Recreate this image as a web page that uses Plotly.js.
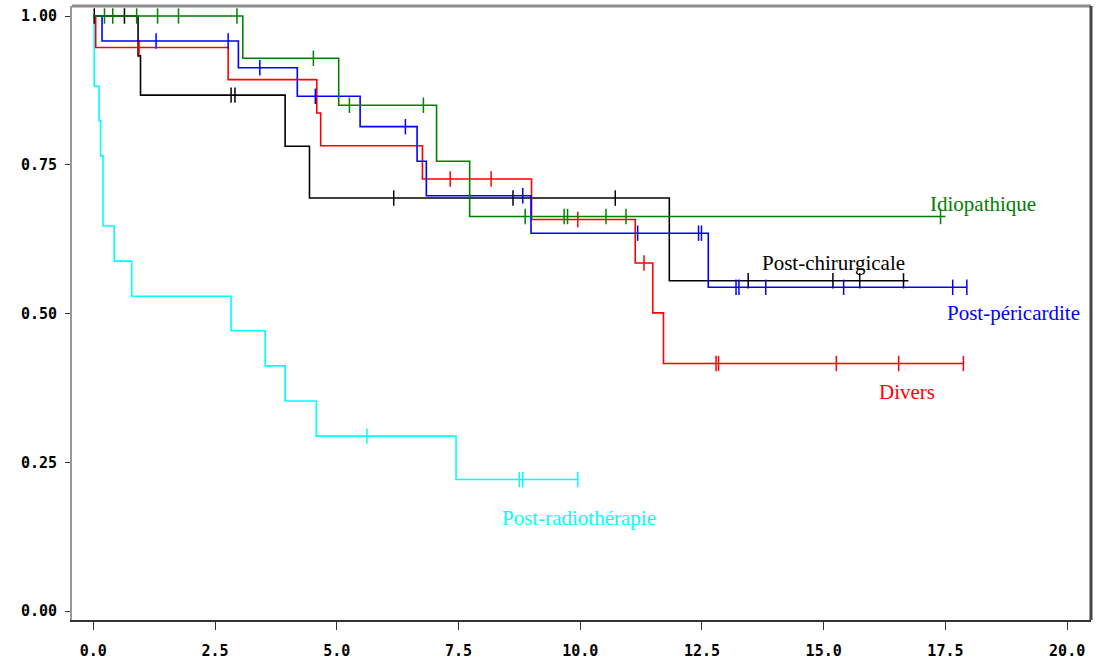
<!DOCTYPE html>
<html>
<head>
<meta charset="utf-8">
<script src="https://cdn.plot.ly/plotly-3.0.1.min.js"></script>
<style>
  html, body { margin: 0; padding: 0; background: #fff; }
  #chart { width: 1100px; height: 666px; }
</style>
</head>
<body>
<div id="chart"></div>
<script>
// Kaplan-Meier survival estimates by aetiology (time in years)

// Post-radiothérapie
const radioEventTimes = [0.02, 0.12, 0.15, 0.20, 0.43, 0.79, 2.83, 3.53, 3.94, 4.58, 7.45];
const radioSurvival   = [0.882, 0.824, 0.765, 0.647, 0.588, 0.529, 0.471, 0.412, 0.353, 0.294, 0.221];
const radioCensored   = [5.62, 8.75, 8.82, 9.95];
const radioEnd = 9.95;

// Post-chirurgicale
const chirEventTimes = [0.92, 0.97, 3.94, 4.44, 11.83];
const chirSurvival   = [0.933, 0.867, 0.781, 0.694, 0.555];
const chirCensored   = [0.02, 0.64, 2.83, 2.91, 6.17, 8.62, 10.72, 13.45, 15.19, 15.74, 16.64];
const chirEnd = 16.74;

// Divers
const diversEventTimes = [0.05, 2.77, 4.59, 4.67, 6.76, 9.00, 11.13, 11.49, 11.71];
const diversSurvival   = [0.947, 0.893, 0.837, 0.782, 0.726, 0.658, 0.585, 0.501, 0.416];
const diversCensored   = [0.94, 7.33, 8.17, 9.95, 11.31, 12.79, 12.84, 15.26, 16.54, 17.87];
const diversEnd = 17.87;

// Post-péricardite
const periEventTimes = [0.18, 2.98, 4.19, 5.48, 6.65, 6.84, 8.99, 12.63];
const periSurvival   = [0.958, 0.913, 0.865, 0.814, 0.756, 0.698, 0.635, 0.544];
const periCensored   = [1.29, 2.77, 3.42, 4.56, 6.41, 8.82, 11.18, 12.43, 12.49, 13.20, 13.26, 13.81, 15.41, 17.65, 17.94];
const periEnd = 17.94;

// Idiopathique
const idioEventTimes = [3.07, 5.04, 7.05, 7.73];
const idioSurvival   = [0.929, 0.850, 0.756, 0.663];
const idioCensored   = [0.23, 0.40, 0.89, 1.32, 1.75, 2.95, 4.52, 5.26, 6.78, 8.87, 9.67, 9.74, 10.53, 10.94, 17.40];
const idioEnd = 17.50;

// Curve labels
const groupNames = ["Post-radiothérapie", "Post-chirurgicale", "Divers", "Post-péricardite", "Idiopathique"];
const labelX = [9.97, 15.21, 16.71, 18.90, 18.27];
const labelY = [0.156, 0.585, 0.368, 0.501, 0.684];

// Axis ticks
const xTicks = [0, 2.5, 5, 7.5, 10, 12.5, 15, 17.5, 20];
const xTickText = ["0.0", "2.5", "5.0", "7.5", "10.0", "12.5", "15.0", "17.5", "20.0"];
const yTicks = [0, 0.25, 0.5, 0.75, 1];
const yTickText = ["0.00", "0.25", "0.50", "0.75", "1.00"];

const groups = [
  { name: groupNames[0], t: radioEventTimes, s: radioSurvival, c: radioCensored, end: radioEnd, color: "#00ffff" },
  { name: groupNames[1], t: chirEventTimes, s: chirSurvival, c: chirCensored, end: chirEnd, color: "#000000" },
  { name: groupNames[2], t: diversEventTimes, s: diversSurvival, c: diversCensored, end: diversEnd, color: "#ff0000" },
  { name: groupNames[3], t: periEventTimes, s: periSurvival, c: periCensored, end: periEnd, color: "#0000ff" },
  { name: groupNames[4], t: idioEventTimes, s: idioSurvival, c: idioCensored, end: idioEnd, color: "#008000" }
];

// survival value of the step function at time x
function survivalAt(g, x) {
  let v = 1;
  for (let i = 0; i < g.t.length; i++) {
    if (g.t[i] <= x) v = g.s[i];
  }
  return v;
}

const traces = [];
groups.forEach(g => {
  const xs = [0].concat(g.t, [g.end]);
  const ys = [1].concat(g.s, [g.s[g.s.length - 1]]);
  traces.push({
    type: "scatter", mode: "lines", x: xs, y: ys,
    line: { shape: "hv", color: g.color, width: 1.6 },
    hoverinfo: "skip", showlegend: false
  });
  traces.push({
    type: "scatter", mode: "markers", x: g.c, y: g.c.map(v => survivalAt(g, v)),
    marker: { symbol: "line-ns-open", size: 11, color: g.color, line: { color: g.color, width: 1.5 } },
    hoverinfo: "skip", showlegend: false
  });
});

const annotations = groups.map((g, i) => ({
  x: labelX[i], y: labelY[i], xref: "x", yref: "y",
  text: g.name, showarrow: false,
  font: { family: "Liberation Serif, Times New Roman, serif", size: 21, color: g.color }
}));

const tickFont = { family: "DejaVu Sans Mono, monospace", size: 15, color: "#000", weight: "bold" };

const layout = {
  width: 1100, height: 666,
  margin: { l: 72, r: 9, t: 6, b: 46 },
  paper_bgcolor: "#ffffff", plot_bgcolor: "#ffffff",
  showlegend: false,
  xaxis: {
    range: [-0.437, 20.49], tickvals: xTicks, ticktext: xTickText,
    showgrid: false, zeroline: false,
    showline: true, linecolor: "#333333", linewidth: 2,
    ticks: "outside", ticklen: 8, tickwidth: 1, tickcolor: "#333333",
    tickfont: tickFont, ticklabelstandoff: 8
  },
  yaxis: {
    range: [-0.0151, 1.0168], tickvals: yTicks, ticktext: yTickText,
    showgrid: false, zeroline: false,
    showline: true, linecolor: "#999999", linewidth: 2,
    ticks: "outside", ticklen: 5, tickwidth: 1, tickcolor: "#333333",
    tickfont: tickFont, ticklabelstandoff: 5
  },
  shapes: [
    { type: "line", xref: "paper", yref: "paper", x0: 0, x1: 1, y0: 1, y1: 1, line: { color: "#8c8c8c", width: 3 } },
    { type: "line", xref: "paper", yref: "paper", x0: 1, x1: 1, y0: 0, y1: 1, line: { color: "#444444", width: 3 } }
  ],
  annotations: annotations
};

Plotly.newPlot("chart", traces, layout, { displayModeBar: false, staticPlot: true });
</script>
</body>
</html>
